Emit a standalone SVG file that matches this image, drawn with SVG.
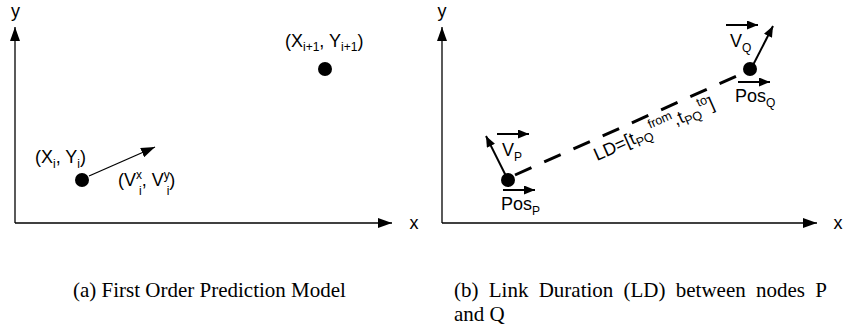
<svg xmlns="http://www.w3.org/2000/svg" width="844" height="328" viewBox="0 0 844 328">
<style>
.t{font-family:"Liberation Sans",Arial,sans-serif;font-size:18px;fill:#000}
.s{font-size:12px}
.cap{font-family:"Liberation Serif","Times New Roman",serif;font-size:21px;fill:#000}
.ax{stroke:#000;stroke-width:1.3;fill:none}
.th{stroke:#000;stroke-width:2;fill:none}
.dash{stroke:#000;stroke-width:3;fill:none;stroke-dasharray:18 14}
</style>
<defs>
<marker id="ah" markerUnits="userSpaceOnUse" markerWidth="14" markerHeight="10" refX="14" refY="5" orient="auto"><path d="M0,0 L14,5 L0,10 z" fill="#000"/></marker>
<marker id="vh" markerUnits="userSpaceOnUse" markerWidth="11" markerHeight="9" refX="11" refY="4.5" orient="auto"><path d="M0,0 L11,4.5 L0,9 z" fill="#000"/></marker>
</defs>
<rect width="844" height="328" fill="#fff"/>

<g id="connectors">
<line class="ax" x1="15" y1="223" x2="15" y2="27" marker-end="url(#ah)"/>
<line class="ax" x1="15" y1="223" x2="392" y2="223" marker-end="url(#ah)"/>
<line class="ax" x1="89" y1="176" x2="155" y2="147" marker-end="url(#ah)"/>
<line class="ax" x1="442" y1="223" x2="442" y2="27" marker-end="url(#ah)"/>
<line class="ax" x1="442" y1="223" x2="817" y2="223" marker-end="url(#ah)"/>
<line class="dash" x1="515" y1="175" x2="739" y2="75"/>
<line class="th" x1="508" y1="180" x2="486" y2="136" marker-end="url(#vh)"/>
<line class="th" x1="751" y1="69" x2="773" y2="26" marker-end="url(#vh)"/>
<line class="th" x1="497" y1="134" x2="529" y2="134" marker-end="url(#vh)"/>
<line class="th" x1="503" y1="190" x2="535" y2="190" marker-end="url(#vh)"/>
<line class="th" x1="726" y1="25" x2="758" y2="25" marker-end="url(#vh)"/>
<line class="th" x1="738" y1="82" x2="770" y2="82" marker-end="url(#vh)"/>
</g>

<g id="axis-labels">
<text class="t" x="15.5" y="17" text-anchor="middle">y</text>
<text class="t" x="414" y="229" text-anchor="middle">x</text>
<text class="t" x="442" y="17" text-anchor="middle">y</text>
<text class="t" x="838" y="229" text-anchor="middle">x</text>
</g>

<g id="node-i">
<circle cx="82" cy="180" r="7" fill="#000"/>
<text class="t" x="35" y="163">(X<tspan class="s" dy="5">i</tspan><tspan dy="-5">, Y</tspan><tspan class="s" dy="5">i</tspan><tspan dy="-5">)</tspan></text>
<text class="t" x="118" y="186">(V<tspan class="s" dy="-7">x</tspan><tspan class="s" dx="-3" dy="16">i</tspan><tspan dy="-9">, V</tspan><tspan class="s" dy="-7">y</tspan><tspan class="s" dx="-3" dy="16">i</tspan><tspan dy="-9">)</tspan></text>
</g>

<g id="node-i1">
<circle cx="325" cy="69" r="7" fill="#000"/>
<text class="t" x="285" y="47">(X<tspan class="s" dy="4">i+1</tspan><tspan dy="-4">, Y</tspan><tspan class="s" dy="4">i+1</tspan><tspan dy="-4">)</tspan></text>
</g>

<g id="node-p">
<circle cx="508" cy="180" r="7" fill="#000"/>
<text class="t" x="502" y="156">V<tspan class="s" dy="5">P</tspan></text>
<text class="t" x="501" y="210">Pos<tspan class="s" dy="5">P</tspan></text>
</g>

<g id="node-q">
<circle cx="750" cy="69" r="7" fill="#000"/>
<text class="t" x="730" y="47">V<tspan class="s" dy="5">Q</tspan></text>
<text class="t" x="735" y="102">Pos<tspan class="s" dy="5">Q</tspan></text>
</g>

<g id="ld-label">
<text class="t" transform="translate(597,161) rotate(-24)">LD=[t<tspan class="s" style="font-size:12.5px" dy="4">PQ</tspan><tspan class="s" style="font-size:12.5px" dy="-12">from</tspan><tspan dy="8">,t</tspan><tspan class="s" style="font-size:12.5px" dy="4">PQ</tspan><tspan class="s" style="font-size:12.5px" dy="-12">to</tspan><tspan dy="8">]</tspan></text>
</g>

<g id="captions">
<text class="cap" x="73" y="297">(a) First Order Prediction Model</text>
<text class="cap" x="454" y="297" word-spacing="5">(b) Link Duration (LD) between nodes P</text>
<text class="cap" x="454" y="321">and Q</text>
</g>
</svg>
